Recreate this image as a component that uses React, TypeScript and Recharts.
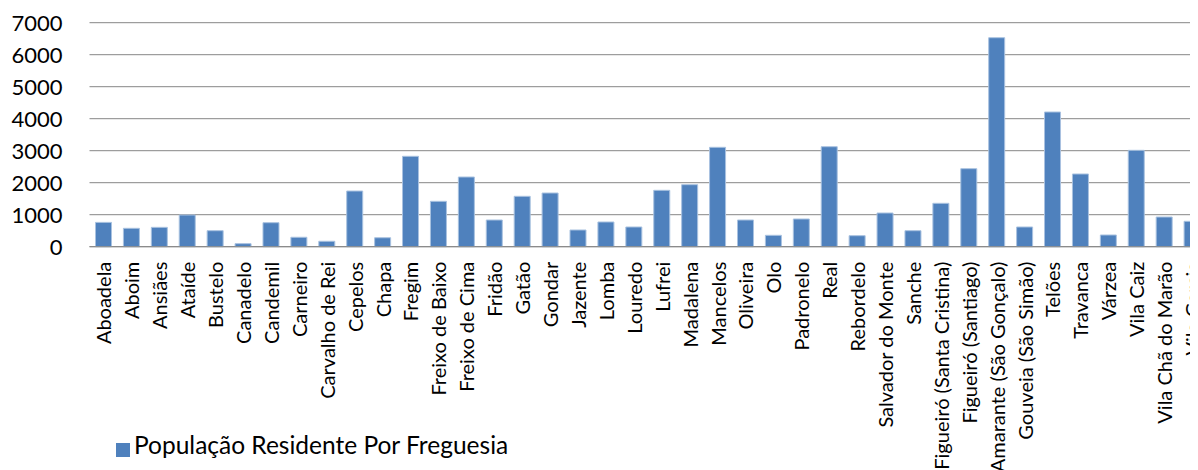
import React from 'react';
import { BarChart, Bar, XAxis, YAxis, CartesianGrid, Legend } from 'recharts';

const categories: string[] = [
  'Aboadela', 'Aboim', 'Ansiães', 'Ataíde', 'Bustelo', 'Canadelo', 'Candemil', 'Carneiro',
  'Carvalho de Rei', 'Cepelos', 'Chapa', 'Fregim', 'Freixo de Baixo', 'Freixo de Cima', 'Fridão',
  'Gatão', 'Gondar', 'Jazente', 'Lomba', 'Louredo', 'Lufrei', 'Madalena', 'Mancelos', 'Oliveira',
  'Olo', 'Padronelo', 'Real', 'Rebordelo', 'Salvador do Monte', 'Sanche',
  'Figueiró (Santa Cristina)', 'Figueiró (Santiago)', 'Amarante (São Gonçalo)',
  'Gouveia (São Simão)', 'Telões', 'Travanca', 'Várzea', 'Vila Caiz', 'Vila Chã do Marão',
  'Vila Garcia',
];

const population: number[] = [
  760, 575, 605, 990, 500, 95, 750, 295, 170, 1740, 280, 2825, 1418, 2178, 834, 1575, 1678, 522,
  772, 616, 1762, 1938, 3106, 834, 356, 866, 3125, 344, 1053, 500, 1356, 2438, 6531, 616, 4209,
  2272, 366, 3012, 928, 794,
];

const yTicks: number[] = [0, 1000, 2000, 3000, 4000, 5000, 6000, 7000];

const seriesName = 'População Residente Por Freguesia';

const data = categories.map((c, i) => ({ name: c, value: population[i] }));

const FONT = 'Lato, "Liberation Sans", sans-serif';

const XTick = (props: any) => {
  const { x, y, payload } = props;
  return (
    <text
      x={x}
      y={y}
      transform={`rotate(-90, ${x}, ${y})`}
      textAnchor="end"
      dominantBaseline="central"
      fontSize={20}
      fill="#000"
      fontFamily={FONT}
    >
      {payload.value}
    </text>
  );
};

export default function App() {
  return (
    <div style={{ width: 1190, height: 462, overflow: 'hidden', fontFamily: FONT, position: 'relative' }}>
      <BarChart
        width={1198}
        height={462}
        data={data}
        margin={{ top: 14.7, right: 0, bottom: 0, left: 0 }}
      >
        <CartesianGrid horizontal vertical={false} stroke="#878787" strokeWidth={1} />
        <XAxis
          dataKey="name"
          interval={0}
          height={223.3}
          tickLine={false}
          tickSize={0}
          tickMargin={15}
          axisLine={{ stroke: '#878787' }}
          tick={<XTick />}
        />
        <YAxis
          width={81.5}
          domain={[0, 7000]}
          ticks={yTicks}
          axisLine={false}
          tickLine={false}
          tickSize={0}
          tickMargin={27}
          tick={{ fill: '#000', fontSize: 22, fontFamily: FONT }}
        />
        <Legend
          verticalAlign="middle"
          layout="horizontal"
          align="center"
          iconType="square"
          iconSize={14}
          wrapperStyle={{ top: 422, left: 108, width: 'auto' }}
          formatter={(value: string) => (
            <span style={{ color: '#000', fontSize: 24.5, fontFamily: FONT }}>{value}</span>
          )}
        />
        <Bar
          dataKey="value"
          name={seriesName}
          fill="#4F81BD"
          stroke="#A9C2E0"
          strokeWidth={1}
          barSize={16}
          isAnimationActive={false}
        />
      </BarChart>
    </div>
  );
}
